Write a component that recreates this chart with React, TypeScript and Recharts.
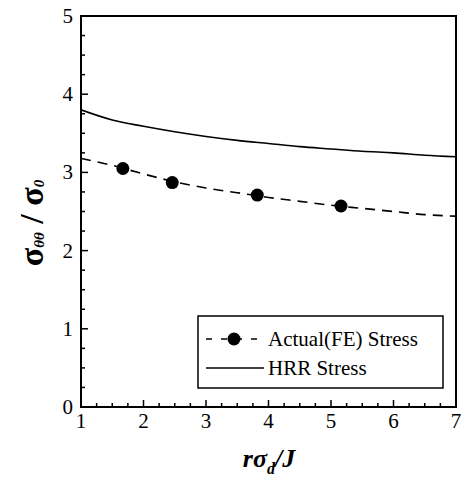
import React from 'react';
import { ComposedChart, Line, XAxis, YAxis, ReferenceArea } from 'recharts';

// ============================================
// DATA
// ============================================

// HRR stress curve (solid)
const hrrX = [1, 1.5, 2, 2.5, 3, 3.5, 4, 4.5, 5, 5.5, 6, 6.5, 7];
const hrrY = [3.8, 3.67, 3.59, 3.52, 3.46, 3.41, 3.37, 3.33, 3.3, 3.27, 3.25, 3.22, 3.2];

// Actual (FE) stress curve (dashed)
const feX = [1, 1.5, 2, 2.5, 3, 3.5, 4, 4.5, 5, 5.5, 6, 6.5, 7];
const feY = [3.18, 3.09, 2.98, 2.88, 2.8, 2.74, 2.68, 2.63, 2.58, 2.54, 2.5, 2.46, 2.44];

// Actual (FE) stress markers
const markerX = [1.67, 2.46, 3.82, 5.16];
const markerY = [3.05, 2.87, 2.71, 2.57];

const xTicks = [
  1, 1.25, 1.5, 1.75, 2, 2.25, 2.5, 2.75, 3, 3.25, 3.5, 3.75, 4, 4.25, 4.5, 4.75,
  5, 5.25, 5.5, 5.75, 6, 6.25, 6.5, 6.75, 7,
];
const yTicks = [
  0, 0.25, 0.5, 0.75, 1, 1.25, 1.5, 1.75, 2, 2.25, 2.5, 2.75, 3, 3.25, 3.5, 3.75,
  4, 4.25, 4.5, 4.75, 5,
];

const legendLabels = ['Actual(FE) Stress', 'HRR Stress'];

const FONT = 'Liberation Serif';

const hrrData = hrrX.map((x, i) => ({ x, y: hrrY[i] }));
const feData = feX.map((x, i) => ({ x, y: feY[i] }));
const markerData = markerX.map((x, i) => ({ x, y: markerY[i] }));

// ============================================
// HELPERS
// ============================================

// inward ticks, labels only on whole numbers
function XTick(props: any) {
  const { x, y, payload } = props;
  const major = Number.isInteger(payload.value);
  return (
    <g>
      <line x1={x} x2={x} y1={y} y2={y - (major ? 7 : 4)} stroke="#000" strokeWidth={1.5} />
      {major && (
        <text x={x} y={y + 21} textAnchor="middle" fontFamily={FONT} fontSize={21} fill="#000">
          {payload.value}
        </text>
      )}
    </g>
  );
}

function YTick(props: any) {
  const { x, y, payload } = props;
  const major = Number.isInteger(payload.value);
  return (
    <g>
      <line x1={x} x2={x + (major ? 7 : 4)} y1={y} y2={y} stroke="#000" strokeWidth={1.5} />
      {major && (
        <text x={x - 8} y={y + 7} textAnchor="end" fontFamily={FONT} fontSize={21} fill="#000">
          {payload.value}
        </text>
      )}
    </g>
  );
}

// ============================================
// COMPONENT
// ============================================

export default function App() {
  return (
    <div style={{ position: 'absolute', left: 0, top: 0, width: 466, height: 480, background: '#fff' }}>
      <ComposedChart width={466} height={480} margin={{ top: 16, right: 10, left: 0, bottom: 0 }}>
        <XAxis
          type="number"
          dataKey="x"
          domain={[1, 7]}
          ticks={xTicks}
          interval={0}
          allowDataOverflow
          height={73}
          axisLine={false}
          tickLine={false}
          tickSize={0}
          tickMargin={0}
          tick={<XTick />}
        />
        <YAxis
          type="number"
          dataKey="y"
          domain={[0, 5]}
          ticks={yTicks}
          interval={0}
          allowDataOverflow
          width={81}
          axisLine={false}
          tickLine={false}
          tickSize={0}
          tickMargin={0}
          tick={<YTick />}
        />
        <ReferenceArea x1={1} x2={7} y1={0} y2={5} fill="none" stroke="#000" strokeWidth={2} />
        <Line
          data={hrrData}
          dataKey="y"
          name={legendLabels[1]}
          stroke="#000"
          strokeWidth={1.6}
          dot={false}
          type="monotone"
          isAnimationActive={false}
        />
        <Line
          data={feData}
          dataKey="y"
          name={legendLabels[0]}
          stroke="#000"
          strokeWidth={1.6}
          strokeDasharray="10 7"
          dot={false}
          type="monotone"
          isAnimationActive={false}
        />
        <Line
          data={markerData}
          dataKey="y"
          name="markers"
          stroke="none"
          dot={{ r: 6.5, fill: '#000', stroke: '#000', strokeWidth: 0 }}
          isAnimationActive={false}
        />

        {/* Axis titles */}
        <text
          x={269}
          y={467}
          textAnchor="middle"
          fontFamily={FONT}
          fontStyle="italic"
          fontWeight="bold"
          fontSize={26}
          fill="#000"
        >
          rσ
          <tspan fontSize={16} dy={7}>d</tspan>
          <tspan dy={-7}>/J</tspan>
        </text>
        <text
          x={31}
          y={223}
          transform="rotate(-90, 31, 223)"
          textAnchor="middle"
          dominantBaseline="central"
          fontFamily={FONT}
          fontWeight="bold"
          fontSize={34}
          fill="#000"
        >
          σ
          <tspan fontSize={15} fontStyle="italic" dy={8}>θθ</tspan>
          <tspan dy={-8}> / σ</tspan>
          <tspan fontSize={15} fontStyle="italic" dy={8}>0</tspan>
        </text>

        {/* Legend */}
        <g>
          <rect x={198} y={316} width={245} height={72} fill="#fff" stroke="#000" strokeWidth={1.5} />
          <line x1={206} x2={264} y1={339} y2={339} stroke="#000" strokeWidth={1.5} strokeDasharray="6 9" />
          <circle cx={234} cy={339} r={6.5} fill="#000" />
          <text x={268} y={346} fontFamily={FONT} fontSize={21} fill="#000">
            {legendLabels[0]}
          </text>
          <line x1={206} x2={264} y1={368} y2={368} stroke="#000" strokeWidth={1.5} />
          <text x={268} y={375} fontFamily={FONT} fontSize={21} fill="#000">
            {legendLabels[1]}
          </text>
        </g>
      </ComposedChart>
    </div>
  );
}
